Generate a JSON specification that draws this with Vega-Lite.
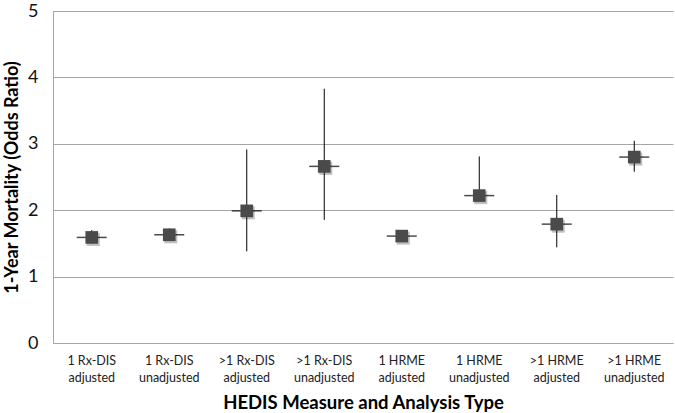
{
  "$schema": "https://vega.github.io/schema/vega-lite/v6.json",
  "autosize": "none",
  "width": 620,
  "height": 332,
  "padding": {"left": 53, "top": 11, "right": 2, "bottom": 70},
  "background": "white",
  "config": {"view": {"stroke": null}, "font": "Lato"},
  "data": {"values": [
    {"cat": "1 Rx-DIS|adjusted", "or": 1.59, "lo": 1.50, "hi": 1.70},
    {"cat": "1 Rx-DIS|unadjusted", "or": 1.63, "lo": 1.55, "hi": 1.725},
    {"cat": ">1 Rx-DIS|adjusted", "or": 1.99, "lo": 1.38, "hi": 2.915},
    {"cat": ">1 Rx-DIS|unadjusted", "or": 2.66, "lo": 1.855, "hi": 3.83},
    {"cat": "1 HRME|adjusted", "or": 1.61, "lo": 1.55, "hi": 1.67},
    {"cat": "1 HRME|unadjusted", "or": 2.22, "lo": 2.15, "hi": 2.81},
    {"cat": ">1 HRME|adjusted", "or": 1.79, "lo": 1.44, "hi": 2.23},
    {"cat": ">1 HRME|unadjusted", "or": 2.80, "lo": 2.58, "hi": 3.045}
  ]},
  "encoding": {
    "x": {
      "field": "cat", "type": "nominal", "sort": null,
      "scale": {"paddingInner": 0, "paddingOuter": 0},
      "axis": {
        "title": "HEDIS Measure and Analysis Type",
        "titleFont": "Lato", "titleFontSize": 18.5, "titleFontWeight": "bold", "titleColor": "#000",
        "titlePadding": 10,
        "labelExpr": "split(datum.value, '|')",
        "labelAngle": 0, "labelFontSize": 12.5, "labelColor": "#222", "labelLineHeight": 17,
        "labelPadding": 11,
        "ticks": false, "domainColor": "#a6a6a6", "domainWidth": 1
      }
    }
  },
  "layer": [
    {
      "mark": {"type": "rule", "color": "#000", "strokeWidth": 1},
      "encoding": {
        "y": {"field": "lo", "type": "quantitative",
          "scale": {"domain": [0, 5], "nice": false},
          "axis": {
            "title": "1-Year Mortality (Odds Ratio)", "values": [0, 1, 2, 3, 4, 5], "format": "d",
            "titleFont": "Lato", "titleFontSize": 18, "titleFontWeight": "bold", "titleColor": "#000",
            "titlePadding": 6,
            "labelFontSize": 18, "labelColor": "#111", "labelPadding": 15,
            "ticks": false, "grid": true, "gridColor": "#a6a6a6", "gridWidth": 1,
            "domainColor": "#a6a6a6"
          }},
        "y2": {"field": "hi"}
      }
    },
    {
      "mark": {"type": "tick", "orient": "horizontal", "color": "#000", "size": 30, "thickness": 1.5},
      "encoding": {"y": {"field": "or", "type": "quantitative"}}
    },
    {
      "mark": {"type": "square", "color": "#000", "opacity": 0.25, "size": 170, "xOffset": 1.5, "yOffset": 2},
      "encoding": {"y": {"field": "or", "type": "quantitative"}}
    },
    {
      "mark": {"type": "square", "color": "#4a4a4a", "opacity": 1, "size": 160},
      "encoding": {"y": {"field": "or", "type": "quantitative"}}
    }
  ]
}
